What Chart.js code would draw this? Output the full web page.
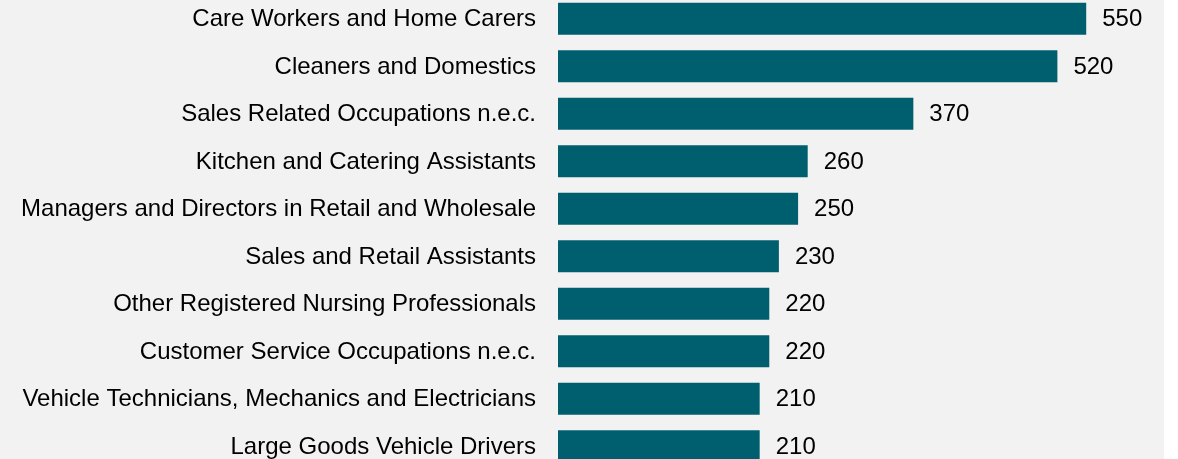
<!DOCTYPE html>
<html>
<head>
<meta charset="utf-8">
<script src="https://cdn.jsdelivr.net/npm/chart.js@4.4.1/dist/chart.umd.min.js"></script>
<style>
  html, body { margin: 0; padding: 0; background: #ffffff; overflow: hidden; }
  #wrap { position: absolute; left: 0; top: -5px; width: 1164px; height: 475px; background: #f2f2f2; }
</style>
</head>
<body>
<div id="wrap"><canvas id="chart"></canvas></div>
<script>
// occupations, largest first
const categories = [
  "Care Workers and Home Carers",
  "Cleaners and Domestics",
  "Sales Related Occupations n.e.c.",
  "Kitchen and Catering Assistants",
  "Managers and Directors in Retail and Wholesale",
  "Sales and Retail Assistants",
  "Other Registered Nursing Professionals",
  "Customer Service Occupations n.e.c.",
  "Vehicle Technicians, Mechanics and Electricians",
  "Large Goods Vehicle Drivers"
];
const values = [550, 520, 370, 260, 250, 230, 220, 220, 210, 210];

const barColor = "#005f6e";
const fontFamily = "'Liberation Sans', Arial, sans-serif";

// draws the number to the right of each bar
const valueLabels = {
  id: "valueLabels",
  afterDatasetsDraw(chart) {
    const ctx = chart.ctx;
    const meta = chart.getDatasetMeta(0);
    ctx.save();
    ctx.font = "24px " + fontFamily;
    ctx.fillStyle = "#000000";
    ctx.textAlign = "left";
    ctx.textBaseline = "middle";
    meta.data.forEach((bar, i) => {
      ctx.fillText(String(values[i]), bar.x + 16, bar.y + 1);
    });
    ctx.restore();
  }
};

new Chart(document.getElementById("chart"), {
  type: "bar",
  data: {
    labels: categories,
    datasets: [{
      data: values,
      backgroundColor: barColor,
      borderWidth: 0,
      categoryPercentage: 1,
      barPercentage: 0.674
    }]
  },
  options: {
    indexAxis: "y",
    responsive: true,
    maintainAspectRatio: false,
    animation: false,
    layout: { padding: 0 },
    plugins: {
      legend: { display: false },
      tooltip: { enabled: false }
    },
    scales: {
      x: {
        display: false,
        min: 0,
        max: 631
      },
      y: {
        grid: { display: false, drawTicks: false },
        border: { display: false },
        ticks: {
          color: "#000000",
          padding: 22,
          labelOffset: 1,
          font: { family: fontFamily, size: 24 }
        },
        afterFit(scale) {
          scale.width = 558;
          scale.paddingTop = 0;
          scale.paddingBottom = 0;
        }
      }
    }
  },
  plugins: [valueLabels]
});
</script>
</body>
</html>
